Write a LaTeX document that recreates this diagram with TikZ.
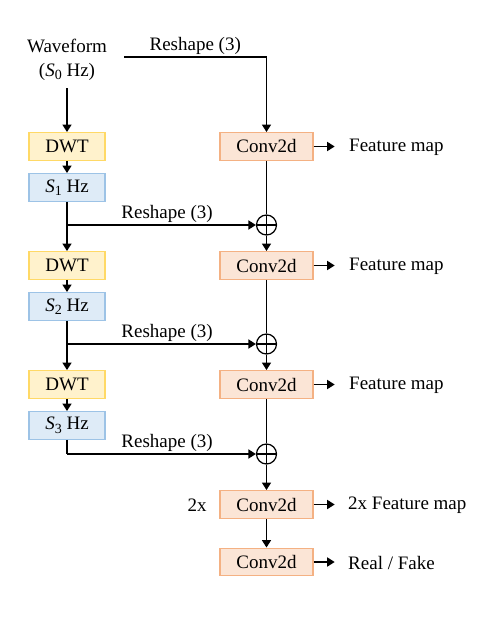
\documentclass[tikz,border=0pt]{standalone}
\usepackage{fontspec}
\setmainfont{Liberation Serif}
\usetikzlibrary{arrows.meta,positioning,calc}
\definecolor{dwtfill}{HTML}{FFF2CC}
\definecolor{dwtdraw}{HTML}{FFD966}
\definecolor{sfill}{HTML}{DEEBF7}
\definecolor{sdraw}{HTML}{9DC3E6}
\definecolor{cfill}{HTML}{FBE5D6}
\definecolor{cdraw}{HTML}{F4B183}
\newcommand{\shz}[1]{\textit{S}\raisebox{-0.4ex}{\fontsize{14}{14}\selectfont #1} Hz}
\begin{document}
\begin{tikzpicture}[x=1pt,y=-1pt,
  every node/.style={font=\fontsize{19}{24}\selectfont},
  box/.style={draw, line width=1.4pt, minimum height=27.5pt, inner sep=0pt},
  dwtbox/.style={box, fill=dwtfill, draw=dwtdraw, minimum width=76pt},
  sbox/.style={box, fill=sfill, draw=sdraw, minimum width=76pt},
  convbox/.style={box, fill=cfill, draw=cdraw, minimum width=93pt},
  txt/.style={inner sep=0pt},
  oplus/.style={circle, draw, line width=1.2pt, minimum size=20pt, inner sep=0pt, path picture={
      \draw[line width=1.2pt] (path picture bounding box.north) -- (path picture bounding box.south)
        (path picture bounding box.west) -- (path picture bounding box.east);}},
  conn/.style={line width=1.6pt},
  arr/.style={conn, -{Triangle[length=7.5pt,width=9pt]}},
  lab/.style={txt, above, yshift=2pt}
]
\path[use as bounding box] (0,0) rectangle (498,618);

% left column
\node[txt, align=center] (wave) at (67,59.5) {Waveform\\(\shz{0})};
\node[dwtbox] (d1) at (67,146.5) {DWT};
\node[sbox] (s1) at (67,187.5) {\shz{1}};
\node[dwtbox] (d2) at (67,265.5) {DWT};
\node[sbox] (s2) at (67,306.5) {\shz{2}};
\node[dwtbox] (d3) at (67,384.5) {DWT};
\node[sbox] (s3) at (67,425.5) {\shz{3}};

% right column
\node[convbox] (c1) at (266.5,146.5) {Conv2d};
\node[oplus] (p1) at (266.5,225) {};
\node[convbox] (c2) at (266.5,265.5) {Conv2d};
\node[oplus] (p2) at (266.5,344) {};
\node[convbox] (c3) at (266.5,384.5) {Conv2d};
\node[oplus] (p3) at (266.5,454) {};
\node[convbox] (c4) at (266.5,504.5) {Conv2d};
\node[convbox] (c5) at (266.5,562) {Conv2d};

% outputs
\node[txt, anchor=west] (f1) at (349,147) {Feature map};
\node[txt, anchor=west] (f2) at (349,266) {Feature map};
\node[txt, anchor=west] (f3) at (349,385) {Feature map};
\node[txt, anchor=west] (f4) at (348,505) {2x Feature map};
\node[txt, anchor=west] (f5) at (348,562.5) {Real / Fake};
\node[txt] (twox) at (197,505) {2x};

% coordinates
\coordinate (w0) at (67,88);
\coordinate (r0) at (124,57);
\coordinate (r1) at (c1.north |- r0);
\coordinate (j1) at (67,225);
\coordinate (j2) at (67,344);
\coordinate (j3) at (67,454);

% left chain
\draw[arr] (w0) -- (d1.north);
\draw[arr] (d1) -- (s1);
\draw[conn] (s1.south) -- (j1);
\draw[arr] (j1) -- (d2.north);
\draw[arr] (d2) -- (s2);
\draw[conn] (s2.south) -- (j2);
\draw[arr] (j2) -- (d3.north);
\draw[arr] (d3) -- (s3);
\draw[conn] (s3.south) -- (j3);

% reshape connections
\draw[arr] (r0) -- node[pos=0.5, lab] {Reshape (3)} (r1) -- (c1.north);
\draw[arr] (j1) -- node[pos=0.53, lab] {Reshape (3)} (p1.west);
\draw[arr] (j2) -- node[pos=0.53, lab] {Reshape (3)} (p2.west);
\draw[arr] (j3) -- node[pos=0.53, lab] {Reshape (3)} (p3.west);

% right chain
\draw[conn] (c1.south) -- (p1.north);
\draw[arr] (p1.south) -- (c2.north);
\draw[conn] (c2.south) -- (p2.north);
\draw[arr] (p2.south) -- (c3.north);
\draw[conn] (c3.south) -- (p3.north);
\draw[arr] (p3.south) -- (c4.north);
\draw[arr] (c4) -- (c5);

% outputs arrows
\draw[arr] (c1.east) -- ++(21,0) coordinate (e1);
\draw[arr] (c2.east) -- ++(21,0) coordinate (e2);
\draw[arr] (c3.east) -- ++(21,0) coordinate (e3);
\draw[arr] (c4.east) -- ++(21,0) coordinate (e4);
\draw[arr] (c5.east) -- ++(21,0) coordinate (e5);
\end{tikzpicture}
\end{document}
